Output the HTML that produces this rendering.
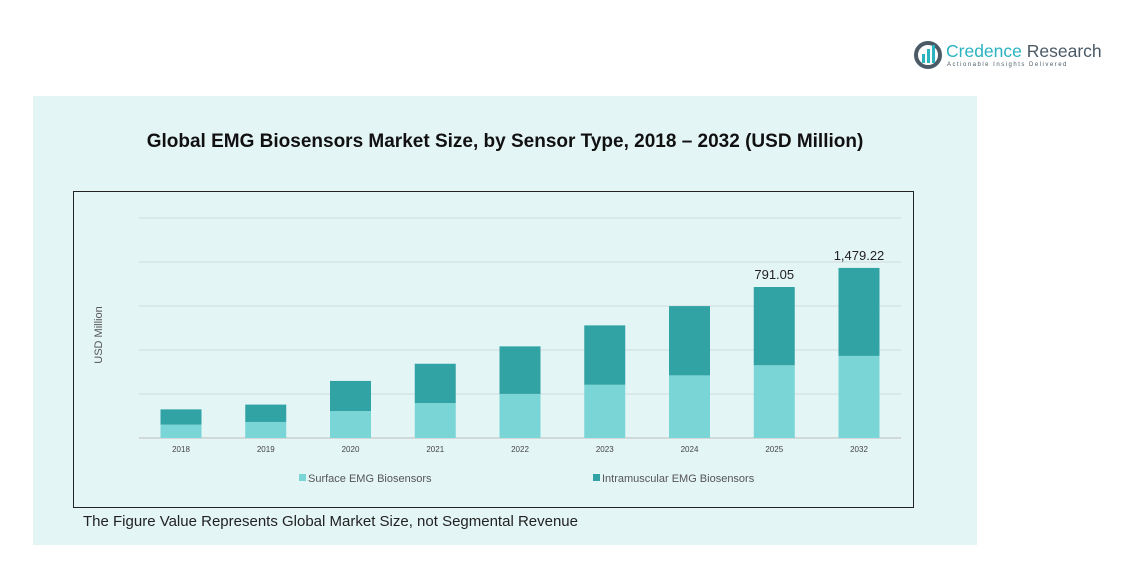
<!DOCTYPE html>
<html><head><meta charset="utf-8"><style>
body{margin:0;background:#fff;font-family:"Liberation Sans",sans-serif}
#wrap{position:relative;width:1140px;height:577px;overflow:hidden}
</style></head><body>
<div id="wrap">
<svg width="1140" height="577">
<rect x="33" y="96" width="944" height="449" fill="#e4f5f6"/>
<g>
<circle cx="928" cy="55" r="12" fill="none" stroke="#4a5a66" stroke-width="4"/>
<rect x="922" y="54" width="3" height="9" fill="#2bb3c0"/><rect x="927" y="49" width="3" height="14" fill="#2bb3c0"/><rect x="932" y="45" width="3" height="18" fill="#2bb3c0"/>
<text x="946" y="57" font-size="17.5" fill="#2bb3c0">Credence <tspan fill="#4a5a66">Research</tspan></text>
<text x="947" y="66" font-size="6" fill="#4a5a66" letter-spacing="1.5">Actionable Insights Delivered</text>
</g>
<text x="505" y="147" text-anchor="middle" font-size="19" font-weight="bold" fill="#111">Global EMG Biosensors Market Size, by Sensor Type, 2018 – 2032 (USD Million)</text>
<rect x="73.5" y="191.5" width="840" height="316" fill="none" stroke="#222"/>
<text transform="translate(102,335) rotate(-90)" text-anchor="middle" font-size="11" fill="#555">USD Million</text>
<g id="grid"></g><g id="bars"></g><g id="xlabels"></g>
<g>
<rect x="299" y="474" width="7" height="7" fill="#7ad5d6"/>
<text x="308" y="482" font-size="11" fill="#555">Surface EMG Biosensors</text>
<rect x="593" y="474" width="7" height="7" fill="#31a3a4"/>
<text x="602" y="482" font-size="11" fill="#555">Intramuscular EMG Biosensors</text>
</g>
<text x="83" y="526" font-size="15" fill="#222">The Figure Value Represents Global Market Size, not Segmental Revenue</text>
</svg></div>
<script>
const categories=["2018","2019","2020","2021","2022","2023","2024","2025","2032"];
const surface=[70,84,141,183,231,279,328,381,430];
const intramuscular=[80,91,158,206,249,311,363,410,461];
const totalLabels=["","","","","","","","791.05","1,479.22"];
const yTicks=[0,230.5,461,691.5,922,1152.5];
const NS="http://www.w3.org/2000/svg";
const y0=438,yTop=218,yMax=1152.5,x0=139,x1=901,bw=41;
const y=v=>y0-(v/yMax)*(y0-yTop);
const xc=i=>181+i*84.75;
function mk(t,a,p){const e=document.createElementNS(NS,t);for(const k in a)e.setAttribute(k,a[k]);document.getElementById(p).appendChild(e);return e;}
yTicks.forEach((t,i)=>{const l=mk("line",{x1:x0,x2:x1,y1:y(t),y2:y(t),stroke:i==0?"#bbb":"#d0dcdd","stroke-width":1},"grid");

});
categories.forEach((c,i)=>{
const s=mk("rect",{x:xc(i)-bw/2,y:y(surface[i]),width:bw,height:y0-y(surface[i]),fill:"#7ad5d6"},"bars");


const tot=surface[i]+intramuscular[i];
const m=mk("rect",{x:xc(i)-bw/2,y:y(tot),width:bw,height:y(surface[i])-y(tot),fill:"#31a3a4"},"bars");


if(totalLabels[i]){const t=mk("text",{x:xc(i),y:y(tot)-8,"text-anchor":"middle","font-size":13,fill:"#222"},"bars");t.textContent=totalLabels[i];

}
const xl=mk("text",{x:xc(i),y:452,"text-anchor":"middle","font-size":8,fill:"#444"},"xlabels");xl.textContent=c;


});
</script>
</body></html>
